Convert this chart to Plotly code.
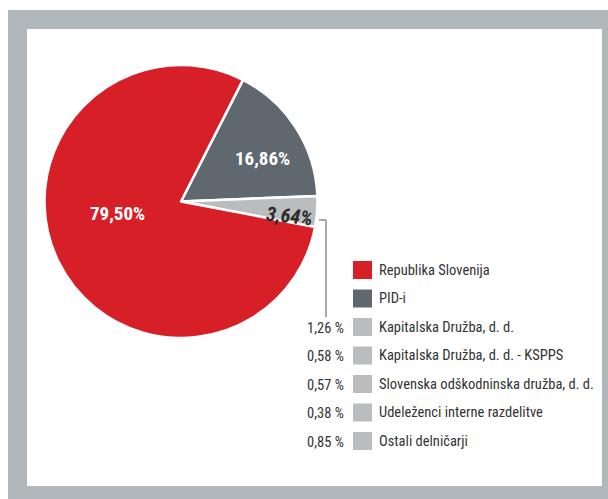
import plotly.graph_objects as go

W, H = 608, 499

# ---- data ----
main_labels = ["PID-i", "Ostali", "Republika Slovenija"]
main_values = [16.86, 3.64, 79.50]
main_colors = ["#5f676f", "#bbbcbe", "#d71f27"]

legend_labels = [
    "Republika Slovenija",
    "PID-i",
    "Kapitalska Družba, d. d.",
    "Kapitalska Družba, d. d. - KSPPS",
    "Slovenska odškodninska družba, d. d.",
    "Udeleženci interne razdelitve",
    "Ostali delničarji",
]
legend_colors = ["#d71f27", "#5f676f", "#bbbcbe", "#bbbcbe", "#bbbcbe", "#bbbcbe", "#bbbcbe"]
breakdown_values = [None, None, 1.26, 0.58, 0.57, 0.38, 0.85]


def fmt(v, sep=""):
    return f"{v:.2f}".replace(".", ",") + sep + "%"


def px(x):
    return x / W


def py(y):
    return 1 - y / H


FONT = "Liberation Sans Narrow, Roboto Condensed, Arial Narrow, DejaVu Sans Condensed, sans-serif"

cx, cy, r = 181, 201.5, 136.5

fig = go.Figure()
fig.add_trace(go.Pie(
    labels=main_labels,
    values=main_values,
    marker=dict(colors=main_colors, line=dict(color="white", width=2.5)),
    sort=False,
    direction="clockwise",
    rotation=27,
    textinfo="none",
    hoverinfo="label+percent",
    showlegend=False,
    domain=dict(x=[px(cx - r), px(cx + r)], y=[py(cy + r), py(cy - r)]),
))

shapes = [
    dict(type="rect", xref="paper", yref="paper", x0=px(8), x1=px(608), y0=py(499), y1=py(10),
         fillcolor="#b1b8bc", line=dict(width=0), layer="below"),
    dict(type="rect", xref="paper", yref="paper", x0=px(27), x1=px(602), y0=py(486), y1=py(29),
         fillcolor="white", line=dict(width=0), layer="below"),
    # connector from small slice to breakdown
    dict(type="path", xref="paper", yref="paper",
         path=f"M {px(319)},{py(220)} L {px(326)},{py(220)} L {px(326)},{py(317)}",
         line=dict(color="#555555", width=1)),
]

annotations = [
    dict(x=px(117), y=py(213), text=f"<b>{fmt(main_values[2])}</b>", showarrow=False,
         xanchor="center", yanchor="middle",
         font=dict(family=FONT, size=19, color="white"), xref="paper", yref="paper"),
    dict(x=px(262), y=py(158), text=f"<b>{fmt(main_values[0])}</b>", showarrow=False,
         xanchor="center", yanchor="middle",
         font=dict(family=FONT, size=19, color="white"), xref="paper", yref="paper"),
    dict(x=px(289), y=py(216), text=f"<b><i>{fmt(main_values[1])}</i></b>", showarrow=False,
         xanchor="center", yanchor="middle",
         textangle=6, font=dict(family=FONT, size=20, color="#2b2b2b"), xref="paper", yref="paper"),
]

row0, step = 270, 28.5
for i, (lab, col, bv) in enumerate(zip(legend_labels, legend_colors, breakdown_values)):
    yc = row0 + i * step
    shapes.append(dict(type="rect", xref="paper", yref="paper",
                       x0=px(353), x1=px(372), y0=py(yc + 9), y1=py(yc - 9),
                       fillcolor=col, line=dict(width=0)))
    annotations.append(dict(x=px(377), y=py(yc), text=lab, showarrow=False, xanchor="left",
                            yanchor="middle", xref="paper", yref="paper",
                            font=dict(family=FONT, size=14.5, color="#333333")))
    if bv is not None:
        annotations.append(dict(x=px(305), y=py(yc + 1), text=fmt(bv, " "), showarrow=False,
                                xanchor="left", yanchor="middle", xref="paper", yref="paper",
                                font=dict(family=FONT, size=14.5, color="#333333")))

fig.update_layout(
    width=W, height=H,
    margin=dict(l=0, r=0, t=0, b=0),
    paper_bgcolor="white",
    plot_bgcolor="white",
    shapes=shapes,
    annotations=annotations,
)

fig.write_html("out.html", config={"displayModeBar": False},
               post_script="document.body.style.margin='0';document.body.style.overflow='hidden';")
